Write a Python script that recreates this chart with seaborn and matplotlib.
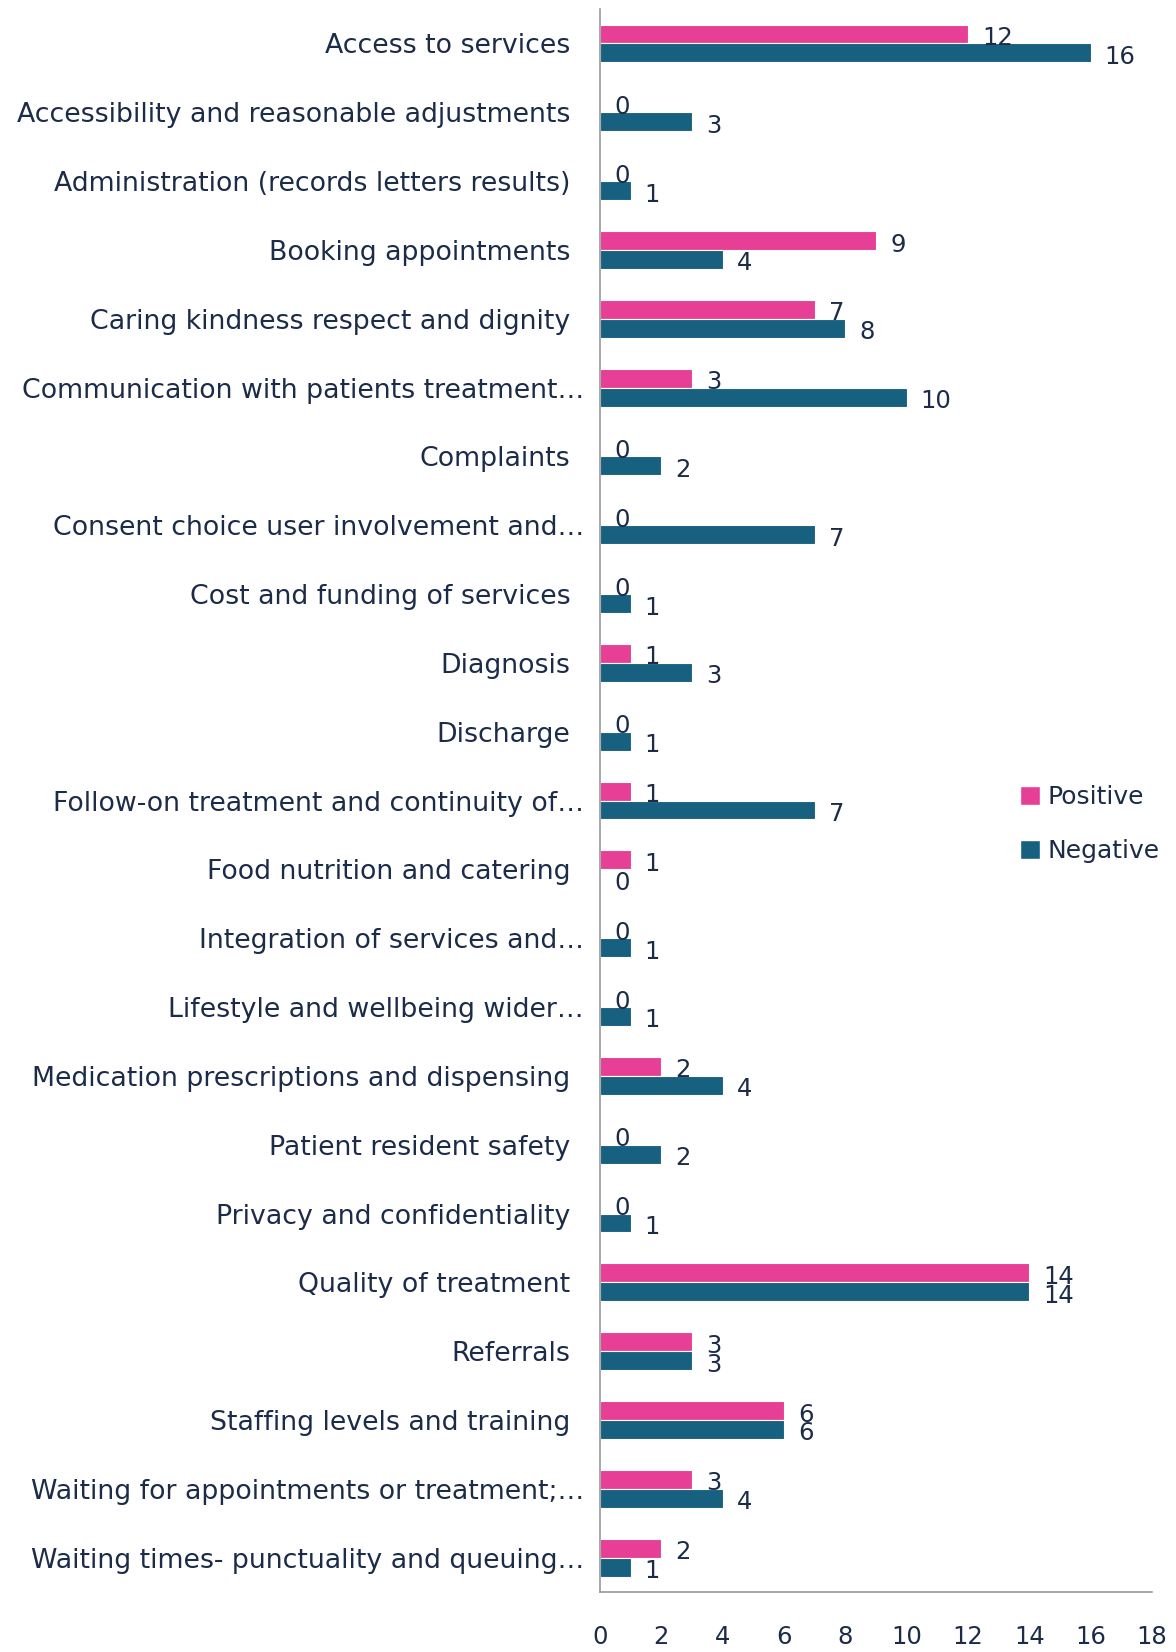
import matplotlib
matplotlib.use('Agg')
import matplotlib.pyplot as plt
import pandas as pd
import seaborn as sns
from matplotlib.patches import Patch

sns.set_style('white')
plt.rcParams['font.family'] = ['DejaVu Sans']

text_color = '#1b2b48'
pink = '#e63f95'
blue = '#17607f'

categories = [
    'Access to services',
    'Accessibility and reasonable adjustments',
    'Administration (records letters results)',
    'Booking appointments',
    'Caring kindness respect and dignity',
    'Communication with patients treatment…',
    'Complaints',
    'Consent choice user involvement and…',
    'Cost and funding of services',
    'Diagnosis',
    'Discharge',
    'Follow-on treatment and continuity of…',
    'Food nutrition and catering',
    'Integration of services and…',
    'Lifestyle and wellbeing wider…',
    'Medication prescriptions and dispensing',
    'Patient resident safety',
    'Privacy and confidentiality',
    'Quality of treatment',
    'Referrals',
    'Staffing levels and training',
    'Waiting for appointments or treatment;…',
    'Waiting times- punctuality and queuing…',
]
positive = [12, 0, 0, 9, 7, 3, 0, 0, 0, 1, 0, 1, 1, 0, 0, 2, 0, 0, 14, 3, 6, 3, 2]
negative = [16, 3, 1, 4, 8, 10, 2, 7, 1, 3, 1, 7, 0, 1, 1, 4, 2, 1, 14, 3, 6, 4, 1]
series = ['Positive', 'Negative']
x_ticks = list(range(0, 19, 2))

df = pd.DataFrame({
    'category': categories * 2,
    'sentiment': ['Positive'] * len(categories) + ['Negative'] * len(categories),
    'count': positive + negative,
})

fig = plt.figure(figsize=(11.76, 16.52), dpi=100)
ax = fig.add_axes([0.5102, 0.0363, 0.4694, 0.9582])

sns.barplot(data=df, y='category', x='count', hue='sentiment',
            hue_order=series, palette=[pink, blue], orient='h',
            width=0.55, saturation=1, edgecolor='white', linewidth=0.8,
            legend=False, ax=ax)

# value labels, just past each bar end
for container in ax.containers:
    for bar in container:
        w = bar.get_width()
        yc = bar.get_y() + bar.get_height() / 2
        ax.annotate('{:d}'.format(int(round(w))), (w, yc),
                    xytext=(14, -4), textcoords='offset pixels',
                    ha='left', va='center', fontsize=17.5,
                    color=text_color)

ax.set_xlim(0, 18)
ax.set_xticks(x_ticks)
ax.set_xticklabels([str(t) for t in x_ticks])
ax.set_xlabel('')
ax.set_ylabel('')
ax.tick_params(axis='x', length=0, pad=24, labelsize=17.5, labelcolor=text_color)
ax.tick_params(axis='y', length=0, pad=21.5, labelsize=19.3, labelcolor=text_color)
for i, tick in enumerate(ax.yaxis.get_major_ticks()):
    if categories[i].endswith('…'):
        tick.set_pad(11.5)

for side in ['top', 'right']:
    ax.spines[side].set_visible(False)
for side in ['left', 'bottom']:
    ax.spines[side].set_color('#9a9a9a')
    ax.spines[side].set_linewidth(1.2)

handles = [Patch(facecolor=pink, label='Positive'),
           Patch(facecolor=blue, label='Negative')]
fig.legend(handles=handles, loc='center left', bbox_to_anchor=(0.857, 0.501),
           frameon=False, fontsize=18, labelcolor=text_color, borderpad=0,
           handlelength=0.8, handleheight=0.8, handletextpad=0.3,
           labelspacing=1.2)

fig.savefig('out.png', dpi=100)
